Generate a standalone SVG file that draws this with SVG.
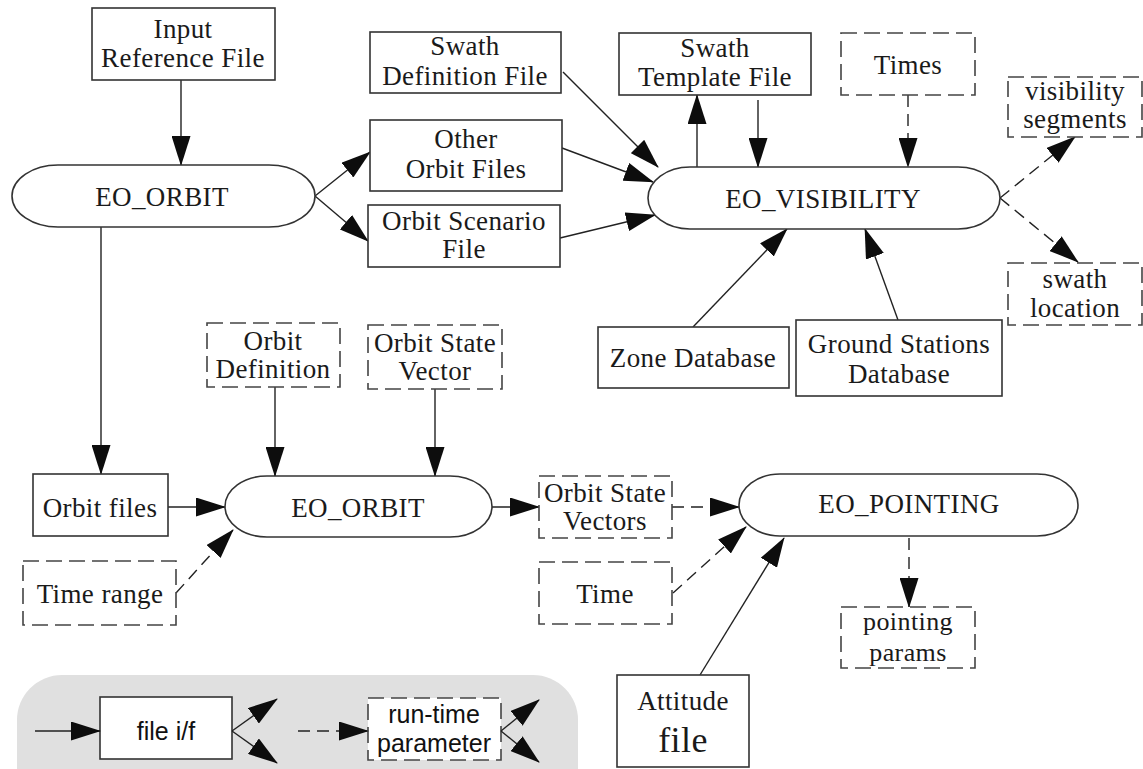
<svg xmlns="http://www.w3.org/2000/svg" width="1143" height="769" viewBox="0 0 1143 769">
<style>
.bx{fill:#fff;stroke:#333;stroke-width:1.6}
.dbx{fill:#fff;stroke:#444;stroke-width:1.6;stroke-dasharray:16 7}
.t{font-family:"Liberation Serif","Times New Roman",serif;font-size:27px;fill:#1a1a1a;text-anchor:middle;letter-spacing:0.4px}
.ts{font-family:"Liberation Sans",Arial,sans-serif;font-size:25px;fill:#111;text-anchor:middle}
.c{fill:none;stroke:#222;stroke-width:1.4;marker-end:url(#ah)}
.d{fill:none;stroke:#222;stroke-width:1.4;stroke-dasharray:12 7;marker-end:url(#ah)}
</style>
<defs>
<marker id="ah" viewBox="0 0 30 19" refX="29" refY="9.5" markerWidth="30" markerHeight="19" markerUnits="userSpaceOnUse" orient="auto">
<path d="M0,0 L30,9.5 L0,19 z" fill="#0d0d0d"/>
</marker>
</defs>
<rect width="1143" height="769" fill="#fff"/>

<g id="legend">
<rect x="17" y="675" width="561" height="160" rx="45" ry="45" fill="#e0e0e0"/>
<rect x="100" y="697" width="132" height="62" fill="#fff" stroke="#333" stroke-width="1.6"/>
<text class="ts" x="166" y="740">file i/f</text>
<rect x="368" y="698" width="133" height="62" class="dbx"/>
<text class="ts" x="434" y="723">run-time</text>
<text class="ts" x="434" y="752">parameter</text>
<path class="c" d="M35,731 L100,731"/>
<path class="c" d="M232,731 L277,699"/>
<path class="c" d="M232,731 L277,763"/>
<path class="d" d="M298,731 L368,731"/>
<path class="c" d="M501,731 L539,700"/>
<path class="c" d="M501,731 L539,762"/>
</g>

<g id="connectors">
<path class="c" d="M181,80 L181,165"/>
<path class="c" d="M315,196 L370,152"/>
<path class="c" d="M315,196 L368,241"/>
<path class="c" d="M563,72 L658,167"/>
<path class="c" d="M562,148 L653,182"/>
<path class="c" d="M560,238 L655,215"/>
<path class="c" d="M697,167 L697,95"/>
<path class="c" d="M758,100 L758,167"/>
<path class="d" d="M908,95 L908,167"/>
<path class="d" d="M1000,198 L1075,137"/>
<path class="d" d="M1000,198 L1078,262"/>
<path class="c" d="M693,327 L787,229"/>
<path class="c" d="M898,320 L865,229"/>
<path class="c" d="M101,227 L101,474"/>
<path class="c" d="M168,507 L225,507"/>
<path class="c" d="M275,387 L275,476"/>
<path class="c" d="M435,389 L435,476"/>
<path class="d" d="M176,593 L233,530"/>
<path class="c" d="M492,507 L539,507"/>
<path class="d" d="M672,507 L739,507"/>
<path class="d" d="M673,593 L746,527"/>
<path class="c" d="M700,675 L784,538"/>
<path class="d" d="M909,538 L909,607"/>
</g>

<g id="input-reference-file">
<rect class="bx" x="92" y="8" width="183" height="72"/>
<text class="t" x="183" y="38">Input</text>
<text class="t" x="183" y="67">Reference File</text>
</g>
<g id="eo-orbit-top">
<rect class="bx" x="12" y="165" width="303" height="62" rx="46" ry="31"/>
<text class="t" x="162" y="206">EO_ORBIT</text>
</g>
<g id="other-orbit-files">
<rect class="bx" x="370" y="120" width="192" height="71"/>
<text class="t" x="466" y="148">Other</text>
<text class="t" x="466" y="178">Orbit Files</text>
</g>
<g id="orbit-scenario-file">
<rect class="bx" x="368" y="205" width="192" height="62"/>
<text class="t" x="464" y="230">Orbit Scenario</text>
<text class="t" x="464" y="258">File</text>
</g>
<g id="swath-definition-file">
<rect class="bx" x="370" y="32" width="191" height="61"/>
<text class="t" x="465" y="55">Swath</text>
<text class="t" x="465" y="85">Definition File</text>
</g>
<g id="swath-template-file">
<rect class="bx" x="619" y="33" width="192" height="62"/>
<text class="t" x="715" y="57">Swath</text>
<text class="t" x="715" y="86">Template File</text>
</g>
<g id="times">
<rect class="dbx" x="841" y="33" width="134" height="62"/>
<text class="t" x="908" y="74">Times</text>
</g>
<g id="eo-visibility">
<rect class="bx" x="648" y="167" width="352" height="62" rx="42" ry="31"/>
<text class="t" x="823" y="208">EO_VISIBILITY</text>
</g>
<g id="visibility-segments">
<rect class="dbx" x="1008" y="77" width="134" height="60"/>
<text class="t" x="1075" y="100">visibility</text>
<text class="t" x="1075" y="128">segments</text>
</g>
<g id="swath-location">
<rect class="dbx" x="1008" y="263" width="134" height="62"/>
<text class="t" x="1075" y="288">swath</text>
<text class="t" x="1075" y="317">location</text>
</g>
<g id="zone-database">
<rect class="bx" x="598" y="327" width="191" height="61"/>
<text class="t" x="693" y="367">Zone Database</text>
</g>
<g id="ground-stations-database">
<rect class="bx" x="796" y="320" width="206" height="76"/>
<text class="t" x="899" y="353">Ground Stations</text>
<text class="t" x="899" y="383">Database</text>
</g>
<g id="orbit-definition">
<rect class="dbx" x="207" y="323" width="133" height="64"/>
<text class="t" x="273" y="350">Orbit</text>
<text class="t" x="273" y="378">Definition</text>
</g>
<g id="orbit-state-vector">
<rect class="dbx" x="368" y="325" width="134" height="64"/>
<text class="t" x="435" y="352">Orbit State</text>
<text class="t" x="435" y="380">Vector</text>
</g>
<g id="orbit-files">
<rect class="bx" x="33" y="474" width="135" height="62"/>
<text class="t" x="100" y="517">Orbit files</text>
</g>
<g id="eo-orbit-bottom">
<rect class="bx" x="225" y="476" width="267" height="61" rx="42" ry="30.5"/>
<text class="t" x="358" y="517">EO_ORBIT</text>
</g>
<g id="time-range">
<rect class="dbx" x="23" y="561" width="153" height="64"/>
<text class="t" x="100" y="603">Time range</text>
</g>
<g id="orbit-state-vectors">
<rect class="dbx" x="539" y="476" width="133" height="62"/>
<text class="t" x="605" y="502">Orbit State</text>
<text class="t" x="605" y="530">Vectors</text>
</g>
<g id="eo-pointing">
<rect class="bx" x="739" y="474" width="339" height="62" rx="41" ry="31"/>
<text class="t" x="909" y="513">EO_POINTING</text>
</g>
<g id="time">
<rect class="dbx" x="539" y="562" width="133" height="62"/>
<text class="t" x="605" y="603">Time</text>
</g>
<g id="attitude-file">
<rect class="bx" x="617" y="675" width="132" height="92"/>
<text class="t" x="683" y="710">Attitude</text>
<text class="t" x="683" y="752" style="font-size:36px">file</text>
</g>
<g id="pointing-params">
<rect class="dbx" x="841" y="607" width="134" height="61"/>
<text class="t" x="908" y="630" style="font-size:26px">pointing</text>
<text class="t" x="908" y="661" style="font-size:26px">params</text>
</g>
</svg>
